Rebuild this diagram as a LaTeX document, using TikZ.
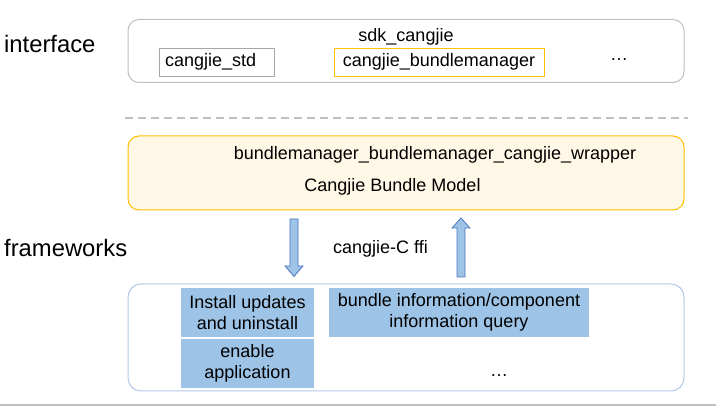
\documentclass[tikz,border=0pt]{standalone}
\usepackage{fontspec}
\setmainfont{Liberation Sans}
\usetikzlibrary{positioning}
\definecolor{linegray}{HTML}{BFBFBF}
\definecolor{stdgray}{HTML}{A6A6A6}
\definecolor{gold}{HTML}{FFC000}
\definecolor{cream}{HTML}{FFF8E6}
\definecolor{paleblue}{HTML}{9DC3E6}
\definecolor{edgeblue}{HTML}{B4C7E7}
\definecolor{arrowblue}{HTML}{4F75C0}
\tikzset{every node/.style={inner sep=0pt, font=\fontsize{18}{21.5}\selectfont},
  layer/.style={font=\fontsize{23.8}{28}\selectfont, anchor=west},
  panel/.style={rounded corners=11pt, line width=1pt},
  module/.style={fill=paleblue, align=center, minimum width=133pt, minimum height=49pt},
  blockarrow/.style={fill=paleblue, draw=arrowblue, line width=0.8pt}}

\begin{document}
\begin{tikzpicture}[x=1pt,y=-1pt]
  \useasboundingbox (0,0) rectangle (716,406);
  \node[layer] (interface) at (4,44) {interface};
  \node[layer] (frameworks) at (4,248) {frameworks};

  \node[panel, draw=linegray, minimum width=556pt, minimum height=63pt] (sdk) at (406,51) {};
  \node (sdkname) at (406,37) {sdk\_cangjie};
  \node[draw=stdgray, line width=0.8pt, minimum width=115pt, minimum height=28pt, text width=103pt, align=left] (std) at (216.5,62) {cangjie\_std};
  \node[draw=gold, line width=0.8pt, minimum width=210pt, minimum height=28pt] (bm) at (439,62) {cangjie\_bundlemanager};
  \node (sdkmore) at (619,60) {\dots};

  \draw[linegray, line width=1.2pt, dash pattern=on 8pt off 5pt] (125,118) -- (688,118);

  \node[panel, draw=gold, fill=cream, minimum width=556pt, minimum height=74pt] (wrapper) at (406,173) {};
  \node (wrappername) at (435,155) {bundlemanager\_bundlemanager\_cangjie\_wrapper};
  \node (model) at (392.5,187) {Cangjie Bundle Model};

  \draw[blockarrow] (290,219) -- (298,219) -- (298,266) -- (303,266) -- (294,276.5) -- (285,266) -- (290,266) -- cycle;
  \draw[blockarrow] (457,277) -- (465,277) -- (465,228) -- (470,228) -- (461,218) -- (452,228) -- (457,228) -- cycle;
  \node (ffi) at (380.5,249) {cangjie-C ffi};

  \node[panel, draw=edgeblue, rounded corners=13pt, minimum width=556pt, minimum height=107pt] (fw) at (406,337.5) {};
  \node[module] (install) at (247.5,312.5) {Install updates\\and uninstall};
  \node[module] (enable) at (247.5,363.5) {enable\\application};
  \node[module, minimum width=260pt] (query) at (459,312.5) {bundle information/component\\information query};
  \node (fwmore) at (499,376) {\dots};

  \draw[linegray, line width=2pt] (0,405) -- (716,405);
\end{tikzpicture}
\end{document}
